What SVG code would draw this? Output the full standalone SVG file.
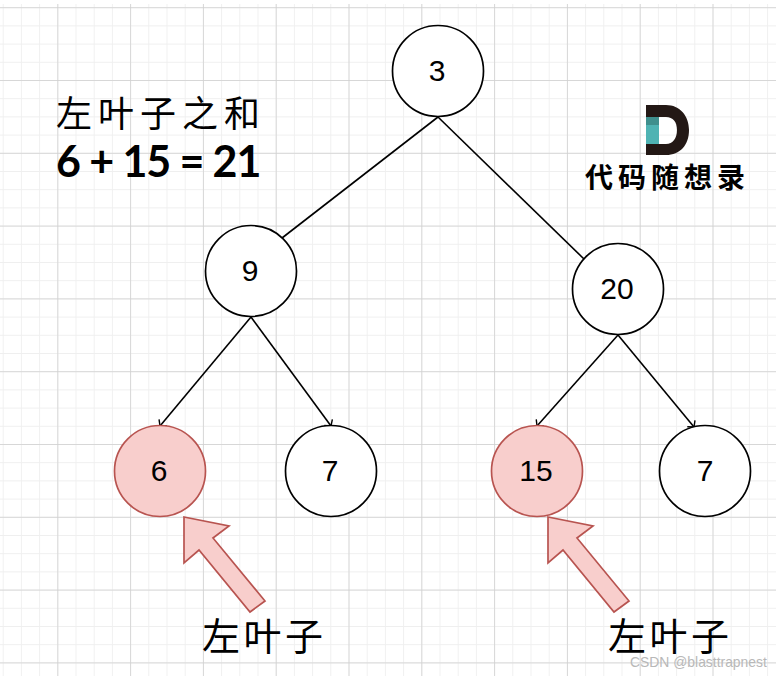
<svg xmlns="http://www.w3.org/2000/svg" width="776" height="676" viewBox="0 0 776 676">
<defs>
<pattern id="minor" width="18.2" height="18.2" patternUnits="userSpaceOnUse" x="2.7" y="7.2"><path d="M0 0V18.2M0 0H18.2" fill="none" stroke="#efefef" stroke-width="1.8"/></pattern>
<pattern id="major" width="72.8" height="72.8" patternUnits="userSpaceOnUse" x="57.3" y="7.2"><path d="M0 0V72.8M0 0H72.8" fill="none" stroke="#d0d0d0" stroke-width="1.5"/></pattern>
<marker id="tick" markerWidth="12" markerHeight="12" refX="10" refY="6" orient="auto" markerUnits="userSpaceOnUse"><path d="M5.5 1 L10 6 L5.5 11" fill="none" stroke="#000" stroke-width="1.4"/></marker>
</defs>
<style>
.n{fill:#fff;stroke:#000;stroke-width:1.7}
.p{fill:#f8cecc;stroke:#b85450;stroke-width:1.7}
.t{font-family:"Liberation Sans",Arial,sans-serif;font-size:30px;text-anchor:middle;fill:#000}
.c{font-family:"Noto Sans CJK SC","Noto Sans CJK JP",sans-serif;fill:#000}
.e{fill:none;stroke:#000;stroke-width:1.6}
</style>
<rect width="776" height="676" fill="#fff"/>
<rect y="4" width="776" height="672" fill="url(#minor)"/>
<rect y="4" width="776" height="672" fill="url(#major)"/>
<g id="connectors">
<path class="e" d="M438 117 L282 238"/>
<path class="e" d="M438 117 L584 259"/>
<path class="e" d="M251 317 L160 426" marker-end="url(#tick)"/>
<path class="e" d="M251 317 L331 426" marker-end="url(#tick)"/>
<path class="e" d="M618 335 L537 426" marker-end="url(#tick)"/>
<path class="e" d="M618 335 L694 427" marker-end="url(#tick)"/>
</g>
<g id="node-3"><circle class="n" cx="438" cy="71" r="45.5"/><text class="t" x="437" y="81">3</text></g>
<g id="node-9"><circle class="n" cx="251" cy="271" r="45.5"/><text class="t" x="250" y="281">9</text></g>
<g id="node-20"><circle class="n" cx="618" cy="289" r="45.5"/><text class="t" x="617" y="299">20</text></g>
<g id="node-6"><circle class="p" cx="160" cy="471" r="45.5"/><text class="t" x="159" y="481">6</text></g>
<g id="node-7a"><circle class="n" cx="331" cy="471" r="45.5"/><text class="t" x="330" y="481">7</text></g>
<g id="node-15"><circle class="p" cx="537" cy="471" r="45.5"/><text class="t" x="536" y="481">15</text></g>
<g id="node-7b"><circle class="n" cx="705" cy="471" r="45.5"/><text class="t" x="705" y="481">7</text></g>
<g id="arrow-1"><path class="p" d="M184 517 L229 526 L213 538 L265 601 L250 612 L199 550 L184 563 Z"/></g>
<g id="arrow-2"><path class="p" d="M548 517 L593 526 L577 538 L629 601 L614 612 L563 550 L548 563 Z"/></g>
<g id="title"><text class="c" x="56" y="127" font-size="36" letter-spacing="6">左叶子之和</text>
<text x="56" y="177" font-family="Lato,'Noto Sans',sans-serif" font-weight="700" font-size="43" letter-spacing="-1.1" xml:space="preserve">6 + 15 = 21</text></g>
<g id="logo"><path fill="#231815" fill-rule="evenodd" d="M646 105 H666 C680 105 689 116 689 130 C689 145 680 155 666 155 H646 Z M659 117 V144 H666 C673 144 677 138 677 130 C677 122 673 117 666 117 Z"/>
<rect x="646" y="117" width="13" height="27" fill="#4fb3b3"/><rect x="646" y="117" width="13" height="8" fill="#3f8f8d"/>
<text class="c" x="585" y="188" font-size="28" font-weight="700" letter-spacing="5">代码随想录</text></g>
<g id="label-1"><text class="c" x="202" y="650" font-size="38" letter-spacing="3.5">左叶子</text></g>
<g id="label-2"><text class="c" x="608" y="650" font-size="38" letter-spacing="3.5">左叶子</text></g>
<text x="630" y="667" font-family="'Liberation Sans',sans-serif" font-size="13.9" fill="#b8b8b8">CSDN @blasttrapnest</text>
</svg>
